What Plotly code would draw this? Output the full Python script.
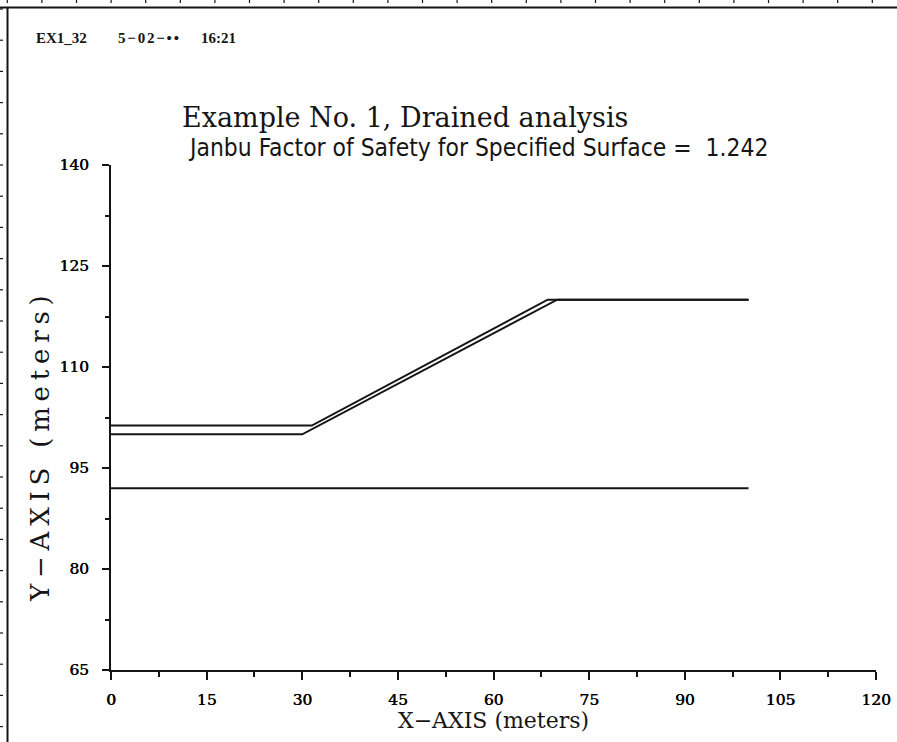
import plotly.graph_objects as go

# ---------------- data ----------------
x_tick_vals = [0, 15, 30, 45, 60, 75, 90, 105, 120]
y_tick_vals = [65, 80, 95, 110, 125, 140]

upper_x = [0, 31.5, 68.5, 100]
upper_y = [101.3, 101.3, 120, 120]
lower_x = [0, 30, 70, 100]
lower_y = [100, 100, 120, 120]
base_x = [0, 100]
base_y = [92, 92]

title_text = "Example No. 1, Drained analysis"
subtitle_text = "Janbu Factor of Safety for Specified Surface =  1.242"
header_texts = ["EX1_32", "5\u221202\u2212\u2022\u2022", "16:21"]
x_title = "X\u2212AXIS (meters)"
y_title = "Y\u2212AXIS (meters)"

# ---------------- layout geometry ----------------
W, H = 897, 742
L, R, T, B = 111, 21, 165, 72
PW, PH = W - L - R, H - T - B


def px(xpix):
    return (xpix - L) / PW


def py(ypix):
    return (H - B - ypix) / PH


INK = "#151515"
SERIF = "DejaVu Serif, Liberation Serif, serif"

fig = go.Figure()
for xs, ys in [(upper_x, upper_y), (lower_x, lower_y), (base_x, base_y)]:
    fig.add_trace(go.Scatter(x=xs, y=ys, mode="lines",
                             line=dict(color=INK, width=2),
                             showlegend=False, hoverinfo="skip"))

annotations = []
annotations.append(dict(text=title_text, x=px(180), y=py(118), xref="paper", yref="paper",
                        xanchor="left", yanchor="middle", showarrow=False,
                        font=dict(family=SERIF, size=27, color=INK)))
annotations.append(dict(text=subtitle_text, x=px(186), y=py(147), xref="paper", yref="paper",
                        xanchor="left", yanchor="middle", showarrow=False,
                        font=dict(family="Liberation Sans Narrow, DejaVu Sans Condensed, Liberation Sans, sans-serif",
                                  size=24.4, color=INK)))
for txt, xl, sp in zip(header_texts, [34, 116, 199], [0, 1.8, 0]):
    annotations.append(dict(text='<span style="letter-spacing:%.1fpx">%s</span>' % (sp, txt),
                            x=px(xl), y=py(38), xref="paper", yref="paper",
                            xanchor="left", yanchor="middle", showarrow=False,
                            font=dict(family="Liberation Serif, serif", size=15, color=INK,
                                      weight="bold")))
annotations.append(dict(text=x_title, x=px(493), y=py(720), xref="paper", yref="paper",
                        xanchor="center", yanchor="middle", showarrow=False,
                        font=dict(family=SERIF, size=22, color=INK)))
annotations.append(dict(text='<span style="letter-spacing:5.8px">' + y_title + '</span>',
                        x=px(40), y=py(446), xref="paper", yref="paper",
                        xanchor="center", yanchor="middle", showarrow=False, textangle=-90,
                        font=dict(family=SERIF, size=26, color=INK)))

# decorative scan frame (ruler border)
shapes = []
shapes.append(dict(type="line", xref="paper", yref="paper", x0=px(0), x1=px(W + 10), y0=py(7.5), y1=py(7.5),
                   line=dict(color=INK, width=2)))
shapes.append(dict(type="line", xref="paper", yref="paper", x0=px(7.5), x1=px(7.5), y0=py(7), y1=py(H),
                   line=dict(color=INK, width=2)))
xr = 7.3
while xr < W:
    shapes.append(dict(type="line", xref="paper", yref="paper", x0=px(xr), x1=px(xr), y0=py(0), y1=py(6),
                       line=dict(color=INK, width=1.2, dash="dot")))
    xr += 34.6
yr = 9
while yr < H:
    shapes.append(dict(type="line", xref="paper", yref="paper", x0=px(0), x1=px(5.5), y0=py(yr), y1=py(yr),
                       line=dict(color=INK, width=1.2, dash="dot")))
    yr += 31.2

TICKFONT = dict(family="DejaVu Serif", size=15.5, color="#000000",
                shadow="0.6px 0px 0px #000000")

fig.update_layout(
    width=W, height=H, autosize=False,
    margin=dict(l=L, r=R, t=T, b=B, pad=0, autoexpand=False),
    paper_bgcolor="white", plot_bgcolor="white",
    annotations=annotations, shapes=shapes,
    xaxis=dict(range=[0, 120], tickvals=x_tick_vals, ticktext=[str(v) for v in x_tick_vals],
               automargin=False,
               showgrid=False, zeroline=False, showline=True, linecolor=INK, linewidth=2,
               ticks="outside", ticklen=8, tickwidth=2, tickcolor=INK,
               minor=dict(dtick=7.5, tick0=0, ticks="outside", ticklen=5, tickwidth=1.5, tickcolor=INK,
                          showgrid=False),
               tickfont=TICKFONT, ticklabelstandoff=6),
    yaxis=dict(range=[65, 140], tickvals=y_tick_vals, ticktext=[str(v) for v in y_tick_vals],
               automargin=False,
               showgrid=False, zeroline=False, showline=True, linecolor=INK, linewidth=2,
               ticks="outside", ticklen=7, tickwidth=2, tickcolor=INK,
               minor=dict(dtick=7.5, tick0=65, ticks="outside", ticklen=4, tickwidth=1.5, tickcolor=INK,
                          showgrid=False),
               tickfont=TICKFONT, ticklabelstandoff=10),
)

fig.write_html("out.html", config={"responsive": False})
